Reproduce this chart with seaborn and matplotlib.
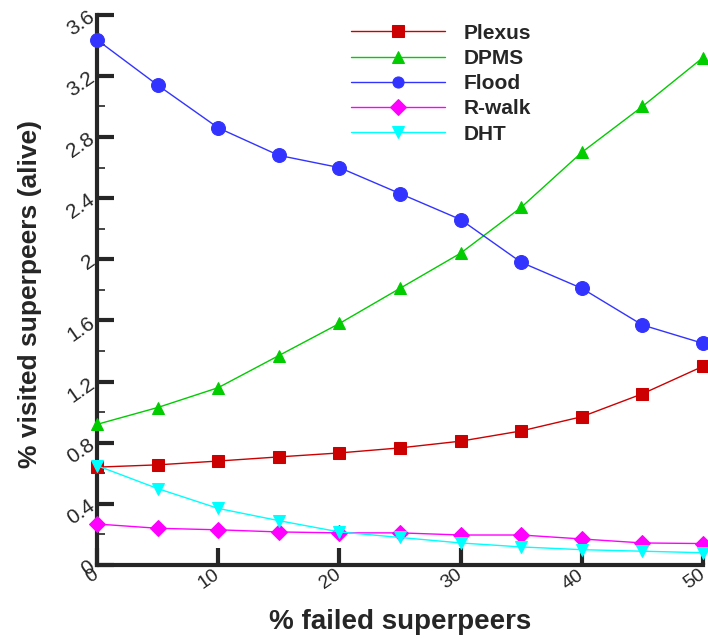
import matplotlib
matplotlib.use("Agg")
import matplotlib.pyplot as plt
import seaborn as sns
import pandas as pd
from matplotlib.ticker import MultipleLocator

failed = [0, 5, 10, 15, 20, 25, 30, 35, 40, 45, 50]
plexus = [0.64, 0.655, 0.68, 0.707, 0.733, 0.766, 0.81, 0.877, 0.97, 1.12, 1.30]
dpms = [0.92, 1.03, 1.16, 1.37, 1.58, 1.81, 2.04, 2.34, 2.70, 3.00, 3.32]
flood = [3.436, 3.14, 2.86, 2.68, 2.60, 2.43, 2.26, 1.98, 1.81, 1.57, 1.45]
rwalk = [0.268, 0.24, 0.23, 0.216, 0.21, 0.21, 0.196, 0.196, 0.17, 0.144, 0.14]
dht = [0.65, 0.50, 0.37, 0.29, 0.216, 0.18, 0.144, 0.118, 0.10, 0.09, 0.08]

series_names = ["Plexus", "DPMS", "Flood", "R-walk", "DHT"]
series_vals = [plexus, dpms, flood, rwalk, dht]
colors = ["#cc0000", "#00cc00", "#3333ff", "#ff00ff", "#00ffff"]
markers = ["s", "^", "o", "D", "v"]
msizes = [8, 8, 10, 8, 8]

yticks = [0, 0.4, 0.8, 1.2, 1.6, 2.0, 2.4, 2.8, 3.2, 3.6]
ytick_labels = ["0", "0.4", "0.8", "1.2", "1.6", "2", "2.4", "2.8", "3.2", "3.6"]

rows = []
for name, vals in zip(series_names, series_vals):
    for x, v in zip(failed, vals):
        rows.append({"failed": x, "value": v, "series": name})
df = pd.DataFrame(rows)

sns.set_style("ticks")
plt.rcParams["font.family"] = ["Liberation Sans", "DejaVu Sans"]

fig = plt.figure(figsize=(7.08, 6.42), dpi=100)
ax = fig.add_axes([0.137, 0.12, 0.856, 0.857])

for name, c, m, ms in zip(series_names, colors, markers, msizes):
    sub = df[df["series"] == name]
    sns.lineplot(data=sub, x="failed", y="value", ax=ax, color=c, marker=m,
                 markersize=ms, markeredgecolor=c, linewidth=1.0, label=name,
                 clip_on=False, zorder=3)

ax.set_xlim(0, 50)
ax.set_ylim(0, 3.6)
ax.xaxis.set_major_locator(MultipleLocator(10))
ax.set_yticks(yticks)
ax.set_yticklabels(ytick_labels)
ax.yaxis.set_minor_locator(MultipleLocator(0.2))
ax.tick_params(axis="both", which="major", direction="in", length=12, width=3,
               labelsize=15)
ax.tick_params(axis="x", which="major", pad=6, labelsize=14)
ax.tick_params(axis="y", which="major", pad=3)
ax.tick_params(axis="y", which="minor", direction="in", length=6, width=1.2)
for lab in ax.get_xticklabels():
    lab.set_rotation(35)
    lab.set_rotation_mode("anchor")
    lab.set_ha("right")
    lab.set_va("center")
for lab in ax.get_yticklabels():
    lab.set_rotation(35)
    lab.set_rotation_mode("anchor")
    lab.set_ha("right")
    lab.set_va("center")

sns.despine(ax=ax)
for s in ["left", "bottom"]:
    ax.spines[s].set_linewidth(3)

ax.set_xlabel("% failed superpeers", fontsize=20, fontweight="bold")
ax.set_ylabel("% visited superpeers (alive)", fontsize=19, fontweight="bold")
ax.xaxis.set_label_coords(0.5, -0.08)
ax.yaxis.set_label_coords(-0.09, 0.493)

leg = ax.legend(loc="upper left", bbox_to_anchor=(0.389, 1.018), frameon=False,
                handlelength=4.5, handletextpad=0.9, labelspacing=0.3,
                prop={"weight": "bold", "size": 15})
for h in leg.legend_handles:
    h.set_markersize(8)

fig.savefig("out.png", dpi=100)
